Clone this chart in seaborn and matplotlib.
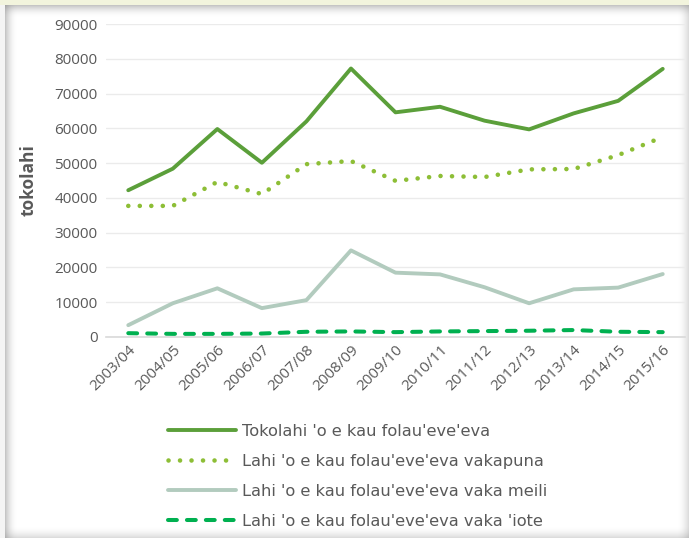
import numpy as np
import pandas as pd
import matplotlib
matplotlib.use("Agg")
import matplotlib.pyplot as plt
import seaborn as sns
from matplotlib.patches import Rectangle
from matplotlib.lines import Line2D

years = ["2003/04", "2004/05", "2005/06", "2006/07", "2007/08", "2008/09", "2009/10",
         "2010/11", "2011/12", "2012/13", "2013/14", "2014/15", "2015/16"]
total = [42200, 48400, 59800, 50100, 62000, 77200, 64600, 66200, 62200, 59700, 64300, 67900, 77100]
vakapuna = [37700, 37700, 44600, 41100, 49700, 50600, 44900, 46300, 46000, 48200, 48300, 52300, 57500]
meili = [3400, 9700, 14000, 8300, 10600, 24900, 18500, 18000, 14300, 9700, 13700, 14200, 18100]
iote = [1100, 900, 900, 1000, 1500, 1600, 1400, 1600, 1700, 1800, 2000, 1500, 1400]

labels = ["Tokolahi 'o e kau folau'eve'eva",
          "Lahi 'o e kau folau'eve'eva vakapuna",
          "Lahi 'o e kau folau'eve'eva vaka meili",
          "Lahi 'o e kau folau'eve'eva vaka 'iote"]
colors = ["#5B9F3A", "#8DBE36", "#B2CBBE", "#00B050"]

sns.set_style("white")
plt.rcParams["font.family"] = ["Open Sans", "DejaVu Sans"]
txt = "#595959"

W, H = 689, 538
fig = plt.figure(figsize=(W / 100, H / 100), dpi=100)

# background frame with soft shadow
bg = fig.add_axes([0, 0, 1, 1])
bg.set_xlim(0, W)
bg.set_ylim(H, 0)
bg.axis("off")
bg.add_patch(Rectangle((0, 0), W, 5, color="#F2F4DD", lw=0))
bg.add_patch(Rectangle((0, 5), 5, H, color="#F4F4F4", lw=0))
for i in range(12):
    a = 0.45 * (1 - i / 12) ** 2
    bg.add_patch(Rectangle((5, 5 + i), W, 1, color="gray", alpha=a, lw=0))
    bg.add_patch(Rectangle((5 + i, 5), 1, H, color="gray", alpha=a, lw=0))
    bg.add_patch(Rectangle((W - 1 - i, 5), 1, H, color="gray", alpha=a * 0.6, lw=0))
    bg.add_patch(Rectangle((5, H - 1 - i), W, 1, color="gray", alpha=a * 0.6, lw=0))

ax = fig.add_axes([106 / W, 1 - 337 / H, (685 - 106) / W, (337 - 24) / H])
ax.set_facecolor("none")

df = pd.DataFrame({"year": years, "total": total, "vakapuna": vakapuna,
                   "meili": meili, "iote": iote})

styles = [
    dict(linestyle="-", linewidth=2.8),
    dict(linestyle=(0, (0.01, 2.5)), linewidth=3.3, dash_capstyle="round"),
    dict(linestyle="-", linewidth=2.8),
    dict(linestyle=(0, (2.2, 2.5)), linewidth=2.9, dash_capstyle="round"),
]
for col, c, st in zip(["total", "vakapuna", "meili", "iote"], colors, styles):
    sns.lineplot(data=df, x="year", y=col, color=c, ax=ax, solid_capstyle="round", **st)

ax.set_xlim(-0.5, len(years) - 0.5)
ax.set_ylim(0, 90000)
ax.set_yticks(np.arange(0, 90001, 10000))
ax.yaxis.grid(True, color="#EBEBEB", lw=1)
for s in ["top", "right", "left"]:
    ax.spines[s].set_visible(False)
ax.spines["bottom"].set_color("#D9D9D9")
ax.spines["bottom"].set_linewidth(1.2)
ax.tick_params(axis="both", length=0, colors=txt, labelsize=11)
ax.tick_params(axis="y", pad=6)
plt.setp(ax.get_xticklabels(), rotation=45, ha="right", rotation_mode="anchor")
ax.tick_params(axis="x", pad=4)
ax.set_xlabel("")
ax.set_ylabel("tokolahi", fontsize=12.5, fontweight="bold", color=txt, labelpad=12)

handles = [Line2D([], [], color=c, solid_capstyle="round", **st) for c, st in zip(colors, styles)]
fig.legend(handles, labels, loc="upper left", bbox_to_anchor=(153 / W, 1 - 409 / H),
           frameon=False, labelcolor=txt, handlelength=4.2,
           handletextpad=0.4, labelspacing=0.93,
           prop={"family": ["DejaVu Sans"], "size": 11.7})

fig.savefig("out.png", dpi=100)
